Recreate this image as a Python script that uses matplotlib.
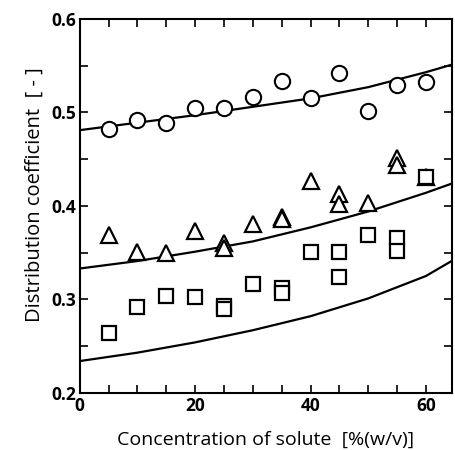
import matplotlib.pyplot as plt
from matplotlib.ticker import MultipleLocator

plt.rcParams['font.family'] = ['Open Sans', 'DejaVu Sans']

# measured points, distribution coefficient vs solute concentration
circ_x = [5, 10, 15, 20, 25, 30, 35, 40, 45, 50, 55, 60]
circ_y = [0.482, 0.492, 0.489, 0.505, 0.505, 0.516, 0.534, 0.515, 0.542, 0.502, 0.529, 0.533]

tri_x = [5, 10, 15, 20, 25, 25, 30, 35, 35, 40, 45, 45, 50, 55, 55, 60]
tri_y = [0.369, 0.351, 0.350, 0.373, 0.360, 0.355, 0.381, 0.388, 0.386, 0.427,
         0.413, 0.402, 0.403, 0.451, 0.444, 0.431]

sq_x = [5, 10, 15, 20, 25, 25, 30, 35, 35, 40, 45, 45, 50, 55, 55, 60]
sq_y = [0.264, 0.292, 0.304, 0.303, 0.293, 0.290, 0.316, 0.312, 0.307, 0.351,
        0.351, 0.324, 0.369, 0.366, 0.352, 0.431]

# calculated curves
curve_x = [0, 10, 20, 30, 40, 50, 60, 65]
curve_top = [0.481, 0.489, 0.497, 0.506, 0.515, 0.527, 0.543, 0.552]
curve_mid = [0.333, 0.341, 0.351, 0.362, 0.377, 0.394, 0.414, 0.425]
curve_bot = [0.234, 0.243, 0.254, 0.267, 0.282, 0.301, 0.325, 0.343]

fig = plt.figure(figsize=(4.56, 4.5), dpi=100)
ax = fig.add_axes([0.175, 0.127, 0.816, 0.831])

for cy in (curve_top, curve_mid, curve_bot):
    ax.plot(curve_x, cy, color='black', lw=1.6)

ax.plot(circ_x, circ_y, ls='none', marker='o', mfc='white', mec='black', mew=1.5, ms=11)
ax.plot(tri_x, tri_y, ls='none', marker='^', mfc='white', mec='black', mew=1.6, ms=11)
ax.plot(sq_x, sq_y, ls='none', marker='s', mfc='white', mec='black', mew=1.6, ms=9.5)

ax.set_xlim(0, 64.5)
ax.set_ylim(0.2, 0.6)
ax.xaxis.set_major_locator(MultipleLocator(20))
ax.xaxis.set_minor_locator(MultipleLocator(5))
ax.yaxis.set_major_locator(MultipleLocator(0.1))
ax.yaxis.set_minor_locator(MultipleLocator(0.05))
ax.tick_params(which='both', direction='in', top=True, right=True, width=1.2)
ax.tick_params(which='major', length=6, labelsize=12.5, pad=3)
ax.tick_params(which='minor', length=6)
for lab in ax.get_xticklabels() + ax.get_yticklabels():
    lab.set_fontweight('bold')
for s in ax.spines.values():
    s.set_linewidth(1.5)

ax.set_xlabel('Concentration of solute  [%(w/v)]', fontsize=14, labelpad=11)
ax.set_ylabel('Distribution coefficient  [ - ]', fontsize=14.5)
ax.yaxis.set_label_coords(-0.095, 0.53)

fig.savefig('out.png', dpi=100)
